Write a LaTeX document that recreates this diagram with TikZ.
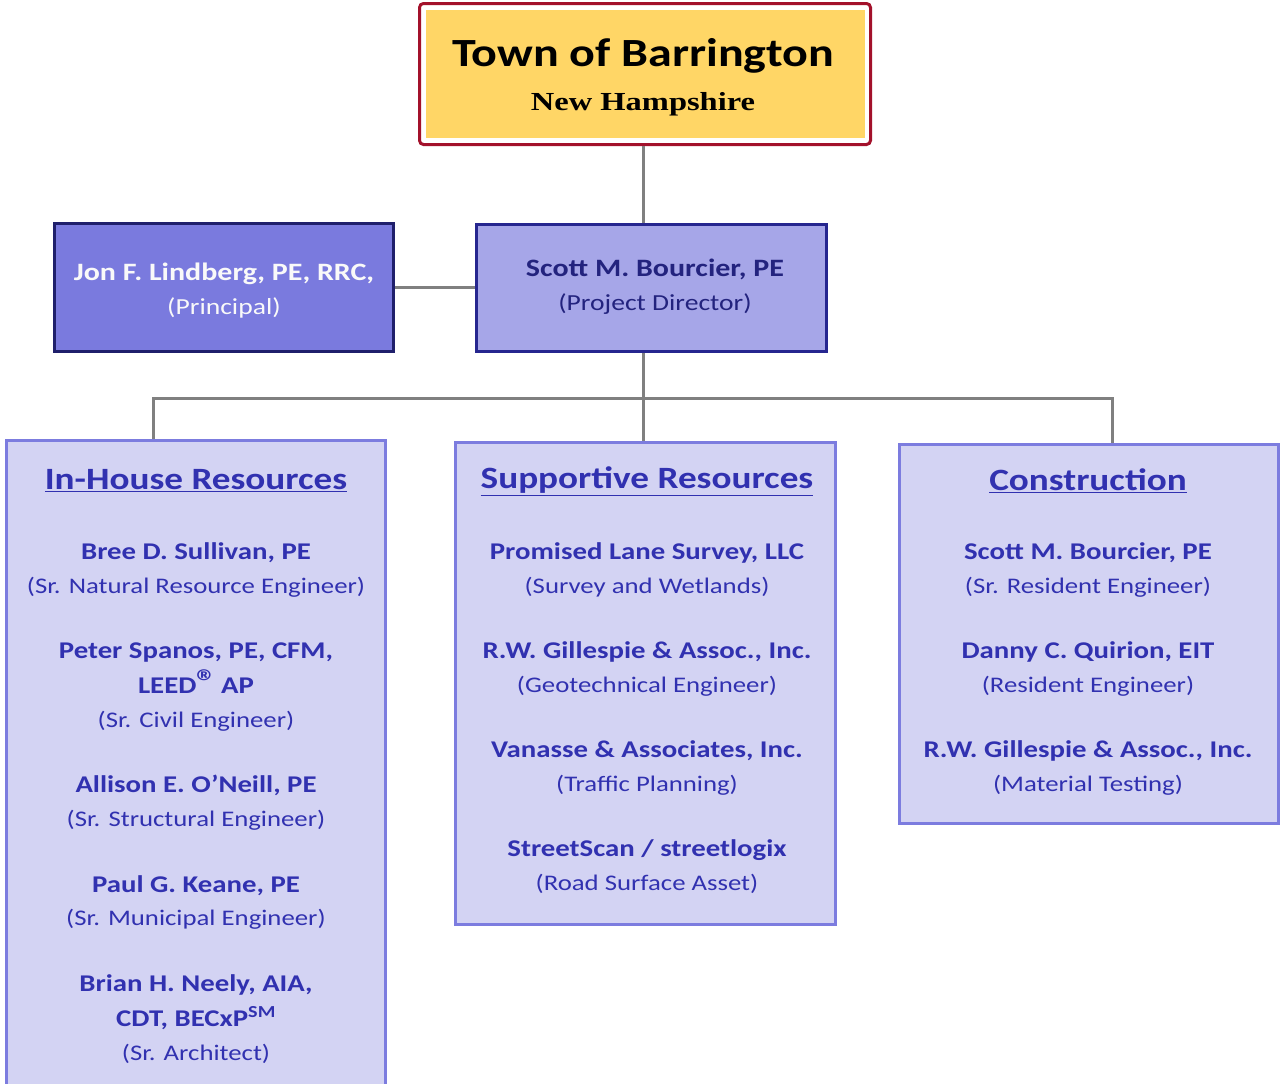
\documentclass[tikz,border=0pt]{standalone}
\usepackage{fontspec}
\setmainfont{Carlito}[FakeStretch=1.2]
\newfontfamily\tnr{Liberation Serif}[FakeStretch=1.25]
\definecolor{redB}{HTML}{A3112B}
\definecolor{yel}{HTML}{FFD666}
\definecolor{jonF}{HTML}{7A7ADE}
\definecolor{jonB}{HTML}{1F1F6B}
\definecolor{scF}{HTML}{A6A6E8}
\definecolor{scB}{HTML}{26268F}
\definecolor{scT}{HTML}{23237E}
\definecolor{grpF}{HTML}{D3D3F3}
\definecolor{grpB}{HTML}{7C7CDF}
\definecolor{txt}{HTML}{3131B0}
\definecolor{conG}{HTML}{808080}
\tikzset{
  conn/.style={draw=conG,line width=3pt},
  grp/.style={draw=grpB,fill=grpF,line width=3pt,inner sep=0pt},
  hdr/.style={text=txt,font=\fontsize{31}{36}\selectfont\bfseries,inner sep=0pt,yshift=-2pt},
  nm/.style={text=txt,font=\fontsize{24}{28}\selectfont\bfseries,inner sep=0pt,text height=16pt,text depth=5pt,yshift=-3pt},
  rl/.style={text=txt,font=\fontsize{22.3}{28}\selectfont,inner sep=0pt,text height=16pt,text depth=5pt,yshift=-3pt},
  nmb/.style={nm,font=\fontsize{25}{28}\selectfont\bfseries},
  rlb/.style={rl,font=\fontsize{23}{28}\selectfont},
}
\newcommand{\hd}[1]{\underline{#1}}
\begin{document}
\begin{tikzpicture}[x=1pt,y=-1pt]
\clip (0,0) rectangle (1280,1084);
\useasboundingbox (0,0) rectangle (1280,1084);
% top
\node[draw=redB,fill=white,line width=3pt,rounded corners=4pt,minimum width=451pt,minimum height=141pt,inner sep=0pt] (top) at (645,74) {};
\node[fill=yel,minimum width=439pt,minimum height=128pt,inner sep=0pt] (topin) at (645,74) {};
\node[font=\fontsize{40}{44}\selectfont\bfseries,inner sep=0pt,yshift=-3pt] (t1) at (643,53) {Town of Barrington};
\node[font=\tnr\fontsize{26}{30}\selectfont\bfseries,inner sep=0pt,yshift=-3pt] (t2) at (643,101) {New Hampshire};
% jon
\node[draw=jonB,fill=jonF,line width=3pt,minimum width=339pt,minimum height=128pt,inner sep=0pt] (jon) at (224,287.5) {};
\node[nmb,text=white!95!gray] (jon1) at (224,272) {Jon F. Lindberg, PE, RRC,};
\node[rlb,text=white!95!gray] (jon2) at (224,306) {(Principal)};
% scott
\node[draw=scB,fill=scF,line width=3pt,minimum width=350pt,minimum height=127pt,inner sep=0pt] (scott) at (651.5,288) {};
\node[nmb,text=scT] (sc1) at (655,268) {Scott M. Bourcier, PE};
\node[rlb,text=scT] (sc2) at (655,302) {(Project Director)};
% groups
\node[grp,minimum width=379pt,minimum height=660pt] (inh) at (196,770) {};
\node[grp,minimum width=380pt,minimum height=482pt] (sup) at (645,683) {};
\node[grp,minimum width=379pt,minimum height=379pt] (con) at (1088.5,633.5) {};
% connectors
\coordinate (bus) at (643,398);
\coordinate (bL) at (153,398);
\coordinate (bR) at (1112,398);
\draw[conn] (top.south -| bus) -- (scott.north -| bus);
\draw[conn] (jon.east) -- (scott.west |- jon.east);
\draw[conn] (scott.south -| bus) -- (bus);
\draw[conn] (inh.north -| bL) -- (bL) -- (bR) -- (con.north -| bR);
\draw[conn] (bus) -- (sup.north -| bus);
% in-house
\node[hdr] (h1) at (196,479) {\hd{In-House Resources}};
\node[nm] (a1) at (196,551) {Bree D. Sullivan, PE};
\node[rl] (a2) at (196,585) {(Sr. Natural Resource Engineer)};
\node[nm] (a3) at (196,650) {Peter Spanos, PE, CFM,};
\node[nm] (a4) at (196,685) {LEED{\fontsize{34}{34}\selectfont ®}\,AP};
\node[rl] (a5) at (196,719) {(Sr. Civil Engineer)};
\node[nm] (a6) at (196,784) {Allison E. O’Neill, PE};
\node[rl] (a7) at (196,818) {(Sr. Structural Engineer)};
\node[nm] (a8) at (196,884) {Paul G. Keane, PE};
\node[rl] (a9) at (196,917) {(Sr. Municipal Engineer)};
\node[nm] (a10) at (196,983) {Brian H. Neely, AIA,};
\node[nm] (a11) at (196,1018) {CDT, BECxP\textsuperscript{SM}};
\node[rl] (a12) at (196,1052) {(Sr. Architect)};
% supportive
\node[hdr] (h2) at (647,479) {\hd{Supportive Resources}};
\node[nm] (b1) at (647,551) {Promised Lane Survey, LLC};
\node[rl] (b2) at (647,585) {(Survey and Wetlands)};
\node[nm] (b3) at (647,650) {R.W. Gillespie \& Assoc., Inc.};
\node[rl] (b4) at (647,684) {(Geotechnical Engineer)};
\node[nm] (b5) at (647,749) {Vanasse \& Associates, Inc.};
\node[rl] (b6) at (647,783) {(Traffic Planning)};
\node[nm] (b7) at (647,848) {StreetScan / streetlogix};
\node[rl] (b8) at (647,882) {(Road Surface Asset)};
% construction
\node[hdr] (h3) at (1088,479) {\hd{Construction}};
\node[nm] (c1) at (1088,551) {Scott M. Bourcier, PE};
\node[rl] (c2) at (1088,585) {(Sr. Resident Engineer)};
\node[nm] (c3) at (1088,650) {Danny C. Quirion, EIT};
\node[rl] (c4) at (1088,684) {(Resident Engineer)};
\node[nm] (c5) at (1088,749) {R.W. Gillespie \& Assoc., Inc.};
\node[rl] (c6) at (1088,783) {(Material Testing)};
\end{tikzpicture}
\end{document}
